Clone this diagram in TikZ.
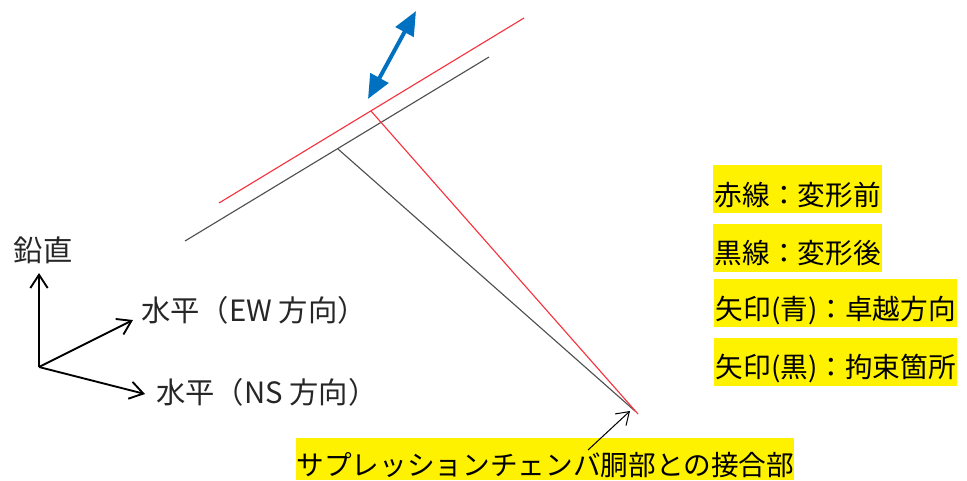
\documentclass[tikz,border=0pt]{standalone}
\usepackage{fontspec}
\setmainfont{Noto Sans CJK JP}
\usetikzlibrary{positioning,arrows.meta}
\definecolor{tipblue}{HTML}{0070C0}
\definecolor{beamgray}{HTML}{505050}
\definecolor{beamred}{HTML}{F5333F}
\tikzstyle{lab}=[inner sep=0pt, font=\fontsize{22pt}{26pt}\selectfont, text=black!85]
\tikzstyle{w}=[inner sep=0pt, font=\fontsize{20.75pt}{24pt}\selectfont, fill=yellow, text height=29.8pt, text depth=6.2pt]
\tikzstyle{axis}=[-{Straight Barb[length=10pt,width=13pt]}, line width=1.4pt, black]

\begin{document}
\begin{tikzpicture}[x=0.75pt, y=-0.75pt,
	before/.style = {beamred, line width=0.85pt},
	after/.style = {beamgray, line width=0.85pt}]
	\useasboundingbox (0, 0) rectangle (967, 480);

	% beams
	\coordinate (RedL) at (219, 203);
	\coordinate (RedR) at (524, 18);
	\coordinate (RedT) at (371, 111);
	\coordinate (RedB) at (638, 414);
	\coordinate (BlkL) at (185, 241);
	\coordinate (BlkR) at (489, 57);
	\coordinate (BlkT) at (338, 149);
	\coordinate (BlkB) at (635, 411);

	\draw[after] (BlkL) -- (BlkR);
	\draw[after] (BlkT) -- (BlkB);
	\draw[before] (RedL) -- (RedR);
	\draw[before] (RedT) -- (RedB);

	% blue arrow
	\coordinate (TipA) at (368, 99);
	\coordinate (TipB) at (416, 11);
	\draw[{Triangle[length=18pt,width=15pt]}-{Triangle[length=18pt,width=15pt]}, tipblue, line width=3pt] (TipA) -- (TipB);

	% axes
	\coordinate (O) at (39, 367);
	\node[lab] (V) at (43, 250) {鉛直};
	\node[lab, anchor=west] (EW) at (141, 310) {水平（EW 方向）};
	\node[lab, anchor=west] (NS) at (156, 392) {水平（NS 方向）};
	\coordinate (VE) at (39, 273);
	\coordinate (EE) at (133, 320);
	\coordinate (NE) at (145, 394);
	\draw[axis] (O) -- (VE);
	\draw[axis] (O) -- (EE);
	\draw[axis] (O) -- (NE);

	% legend
	\node[w, minimum width=126.75pt, anchor=north west] (L1) at (713, 165) {赤線：変形前};
	\node[w, minimum width=126.75pt] (L2) [below = 7.5pt of L1] {黒線：変形後};
	\node[w, minimum width=182.25pt, anchor=north west] (L3) at (714, 279) {矢印(青)：卓越方向};
	\node[w, minimum width=182.25pt] (L4) [below = 7.5pt of L3] {矢印(黒)：拘束箇所};

	% joint
	\node[w, minimum width=373.5pt, text height=27.8pt, text depth=3.7pt, anchor=north west] (J) at (296, 438) {サプレッションチェンバ胴部との接合部};
	\coordinate (JS) at (588, 450);
	\coordinate (JE) at (630, 411);
	\draw[-{Straight Barb[length=9pt,width=12pt]}, line width=0.75pt] (JS) -- (JE);

\end{tikzpicture}
\end{document}
